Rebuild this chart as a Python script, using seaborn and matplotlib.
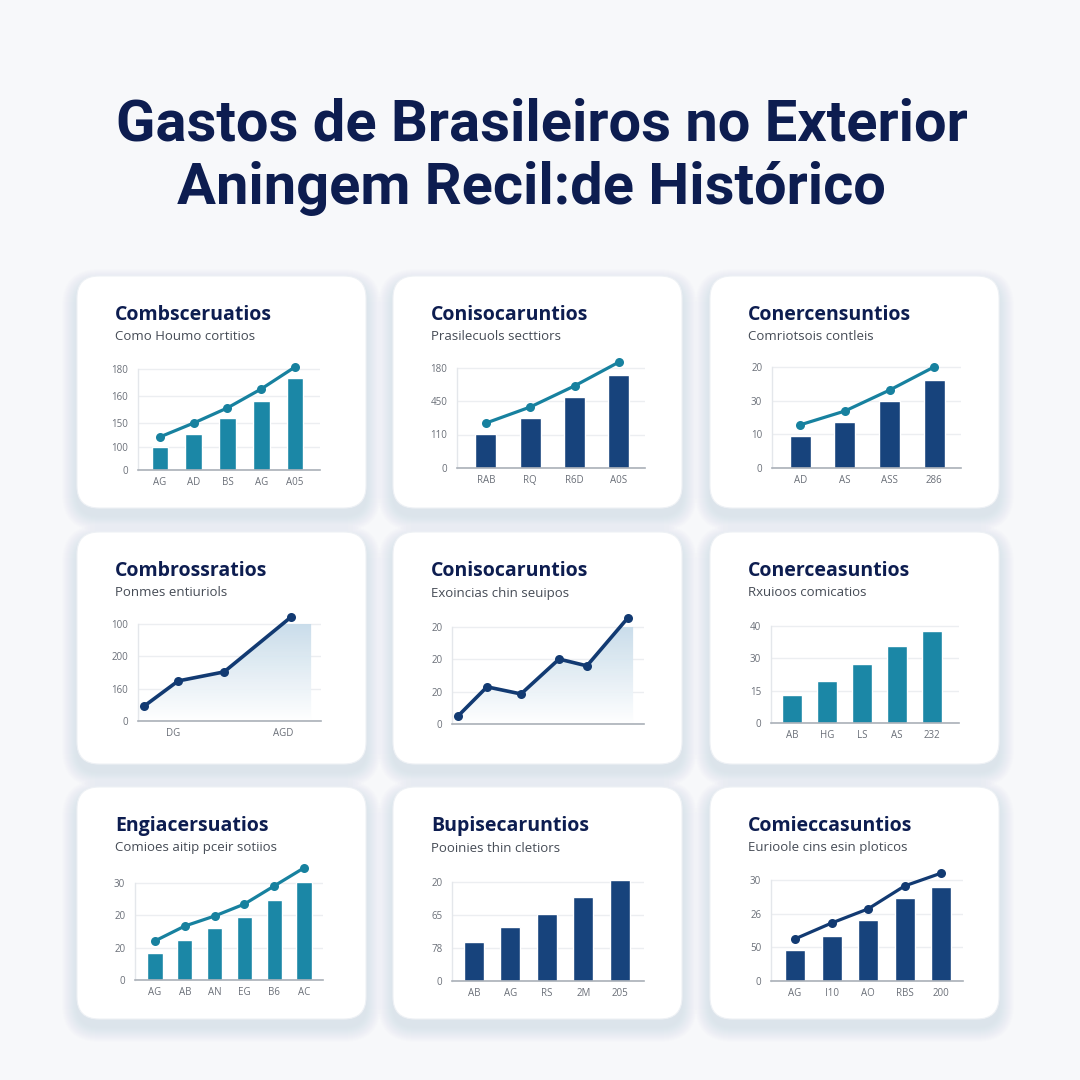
import numpy as np
import seaborn as sns
import matplotlib.pyplot as plt
from matplotlib.patches import FancyBboxPatch, Polygon
from matplotlib.colors import LinearSegmentedColormap

sns.set_style("white")
plt.rcParams["font.family"] = ["Open Sans", "DejaVu Sans"]

title_line1 = "Gastos de Brasileiros no Exterior"
title_line2 = "Aningem Recil:de Histórico"

card_titles = ["Combsceruatios", "Conisocaruntios", "Conercensuntios",
               "Combrossratios", "Conisocaruntios", "Conerceasuntios",
               "Engiacersuatios", "Bupisecaruntios", "Comieccasuntios"]
card_subtitles = ["Como Houmo cortitios", "Prasilecuols secttiors", "Comriotsois contleis",
                  "Ponmes entiuriols", "Exoincias chin seuipos", "Rxuioos comicatios",
                  "Comioes aitip pceir sotiios", "Pooinies thin cletiors", "Eurioole cins esin ploticos"]

# card 1: bars + line
c1_x = ["AG", "AD", "BS", "AG", "A05"]
c1_bars = [9.1, 14.3, 20.6, 27.3, 36.4]
c1_line = [13.1, 18.6, 24.6, 32.1, 40.8]
c1_yticks = [0, 9.1, 18.6, 29.3, 40]
c1_ylabels = ["0", "100", "150", "160", "180"]

# card 2
c2_x = ["RAB", "RQ", "R6D", "A0S"]
c2_bars = [10.1, 14.9, 21.2, 27.8]
c2_line = [13.4, 18.2, 24.5, 31.6]
c2_ylabels = ["0", "110", "450", "180"]

# card 3
c3_x = ["AD", "AS", "ASS", "286"]
c3_bars = [9.5, 13.6, 19.9, 26.1]
c3_line = [12.8, 16.9, 23.1, 30.0]
c3_ylabels = ["0", "10", "30", "20"]

# card 4: area line
c4_x = [0, 1, 2.35, 4.32]
c4_y = [4.6, 12.4, 15.2, 32.2]
c4_xticks = [0.85, 4.09]
c4_xlabels = ["DG", "AGD"]
c4_ylabels = ["0", "160", "200", "100"]

# card 5: area line
c5_x = [0, 0.85, 1.85, 2.97, 3.79, 4.99]
c5_y = [2.5, 11.5, 9.3, 20.1, 18.0, 32.8]
c5_ylabels = ["0", "20", "20", "20"]

# card 6: bars
c6_x = ["AB", "HG", "LS", "AS", "232"]
c6_bars = [8.7, 13.0, 18.3, 23.8, 28.5]
c6_ylabels = ["0", "15", "30", "40"]

# card 7: bars + line
c7_x = ["AG", "AB", "AN", "EG", "B6", "AC"]
c7_bars = [8.4, 12.4, 16.1, 19.5, 24.8, 30.3]
c7_line = [12.1, 16.7, 19.8, 23.5, 29.1, 34.7]
c7_ylabels = ["0", "20", "20", "30"]

# card 8: bars
c8_x = ["AB", "AG", "RS", "2M", "205"]
c8_bars = [11.8, 16.4, 20.3, 25.5, 30.6]
c8_ylabels = ["0", "78", "65", "20"]

# card 9: bars + line
c9_x = ["AG", "I10", "AO", "RBS", "200"]
c9_bars = [9.2, 13.4, 18.1, 24.6, 27.9]
c9_line = [12.5, 17.2, 21.4, 28.2, 32.0]
c9_ylabels = ["0", "50", "26", "30"]

even_ticks = [0, 10, 20, 30]

TEAL = "#1b87a6"
TEAL_LINE = "#17819f"
NAVY = "#17437c"
NAVY_LINE = "#123a72"
INK = "#0d1d50"

W = H = 1080
fig = plt.figure(figsize=(10.8, 10.8), dpi=100)
fig.patch.set_facecolor("#f7f8fa")

bg = fig.add_axes([0, 0, 1, 1], zorder=-10)
bg.set_xlim(0, W)
bg.set_ylim(H, 0)
bg.axis("off")

card_x = [77, 393, 710]
card_y = [276, 532, 787]
card_w, card_h = 289, 232

for r in range(3):
    for c in range(3):
        x0, y0 = card_x[c], card_y[r]
        for i in range(1, 16):
            bg.add_patch(FancyBboxPatch((x0 - i, y0 - i + 8), card_w + 2 * i, card_h + 2 * i,
                                        boxstyle=f"round,pad=0,rounding_size={22 + i}",
                                        fc="#8a9ab3", ec="none", alpha=0.012))
        bg.add_patch(FancyBboxPatch((x0, y0), card_w, card_h,
                                    boxstyle="round,pad=0,rounding_size=22",
                                    fc="white", ec="#eef1f5", lw=0.8))
        k = r * 3 + c
        bg.text(x0 + 38, y0 + 39, card_titles[k], fontsize=14, fontweight="bold",
                color=INK, ha="left", va="center")
        bg.text(x0 + 38, y0 + 61, card_subtitles[k], fontsize=9.5,
                color="#454b55", ha="left", va="center")

bg.text(542, 125, title_line1, fontsize=41.7, fontweight="bold", color=INK,
        ha="center", va="center", family=["Roboto", "DejaVu Sans"])
bg.text(531, 189, title_line2, fontsize=41.7, fontweight="bold", color=INK,
        ha="center", va="center", family=["Roboto", "DejaVu Sans"])


def make_axes(left, right, bottom, ppu, xlim, height=118):
    ax = fig.add_axes([left / W, 1 - bottom / H, (right - left) / W, height / H])
    ax.set_facecolor("none")
    ax.set_ylim(0, height / ppu)
    ax.set_xlim(*xlim)
    return ax


def style_axes(ax, yticks, ylabels, xticks, xlabels):
    ax.set_yticks(yticks)
    ax.set_yticklabels(ylabels)
    ax.set_xticks(xticks)
    ax.set_xticklabels(xlabels)
    ax.yaxis.grid(True, color="#eceef1", lw=1)
    ax.xaxis.grid(False)
    ax.set_axisbelow(True)
    for s in ["top", "right"]:
        ax.spines[s].set_visible(False)
    ax.spines["left"].set_bounds(0, yticks[-1])
    ax.spines["left"].set_color("#e4e7eb")
    ax.spines["left"].set_linewidth(1)
    ax.spines["bottom"].set_color("#aab0b8")
    ax.spines["bottom"].set_linewidth(1.2)
    ax.tick_params(length=0, labelsize=7, labelcolor="#6a6f78")
    ax.tick_params(axis="y", pad=7)
    ax.tick_params(axis="x", pad=5)
    ax.set_xlabel("")
    ax.set_ylabel("")


def bar_card(ax, labels, bars, line, bar_color, line_color, width, yticks, ylabels):
    xlim = ax.get_xlim()
    ylim = ax.get_ylim()
    pos = np.arange(len(bars))
    sns.barplot(x=pos, y=bars, color=bar_color, saturation=1, width=width, ax=ax)
    if line is not None:
        sns.lineplot(x=pos, y=line, color=line_color, marker="o", markersize=6.5,
                     markeredgewidth=0, linewidth=2.3, ax=ax, zorder=4)
    ax.set_xlim(*xlim)
    ax.set_ylim(*ylim)
    style_axes(ax, yticks, ylabels, pos, labels)


gradient = LinearSegmentedColormap.from_list("fade", ["#ffffff", "#c8dcea"])


def area_card(ax, xs, ys, x_end, yticks, ylabels, xticks, xlabels):
    xlim = ax.get_xlim()
    ylim = ax.get_ylim()
    verts = [(xlim[0], 0), (xlim[0], ys[0])] + list(zip(xs, ys)) + [(x_end, ys[-1]), (x_end, 0)]
    poly = Polygon(verts, closed=True, fc="none", ec="none")
    ax.add_patch(poly)
    img = ax.imshow(np.linspace(0, 1, 256).reshape(-1, 1), cmap=gradient, aspect="auto",
                    origin="lower", extent=(xlim[0], x_end, 0, yticks[-1]), zorder=1,
                    alpha=0.95)
    img.set_clip_path(poly)
    sns.lineplot(x=xs, y=ys, color=NAVY_LINE, marker="o", markersize=6.5,
                 markeredgewidth=0, linewidth=2.6, ax=ax, zorder=4)
    ax.set_xlim(*xlim)
    ax.set_ylim(*ylim)
    style_axes(ax, yticks, ylabels, xticks, xlabels)


# row 1
ax1 = make_axes(138, 320, 470, 2.525, (-0.65, 4.74))
bar_card(ax1, c1_x, c1_bars, c1_line, TEAL, TEAL_LINE, 0.5, c1_yticks, c1_ylabels)

ax2 = make_axes(457, 645, 468, 3.35, (-0.65, 3.59))
bar_card(ax2, c2_x, c2_bars, c2_line, NAVY, TEAL_LINE, 0.47, even_ticks, c2_ylabels)

ax3 = make_axes(772, 961, 468, 3.37, (-0.63, 3.6))
bar_card(ax3, c3_x, c3_bars, c3_line, NAVY, TEAL_LINE, 0.47, even_ticks, c3_ylabels)

# row 2
ax4 = make_axes(138, 321, 721, 3.23, (-0.18, 5.2))
area_card(ax4, c4_x, c4_y, 4.91, even_ticks, c4_ylabels, c4_xticks, c4_xlabels)

ax5 = make_axes(452, 644, 724, 3.23, (-0.18, 5.47))
area_card(ax5, c5_x, c5_y, 5.15, even_ticks, c5_ylabels, [], [])

ax6 = make_axes(771, 959, 723, 3.23, (-0.6, 4.77))
bar_card(ax6, c6_x, c6_bars, None, TEAL, TEAL_LINE, 0.55, even_ticks, c6_ylabels)

# row 3
ax7 = make_axes(135, 323, 980, 3.23, (-0.67, 5.64))
bar_card(ax7, c7_x, c7_bars, c7_line, TEAL, TEAL_LINE, 0.51, even_ticks, c7_ylabels)

ax8 = make_axes(452, 644, 981, 3.3, (-0.6, 4.66))
bar_card(ax8, c8_x, c8_bars, None, NAVY, NAVY_LINE, 0.55, even_ticks, c8_ylabels)

ax9 = make_axes(771, 963, 981, 3.37, (-0.66, 4.6))
bar_card(ax9, c9_x, c9_bars, c9_line, NAVY, NAVY_LINE, 0.55, even_ticks, c9_ylabels)

fig.savefig("out.png", dpi=100, facecolor=fig.get_facecolor())
